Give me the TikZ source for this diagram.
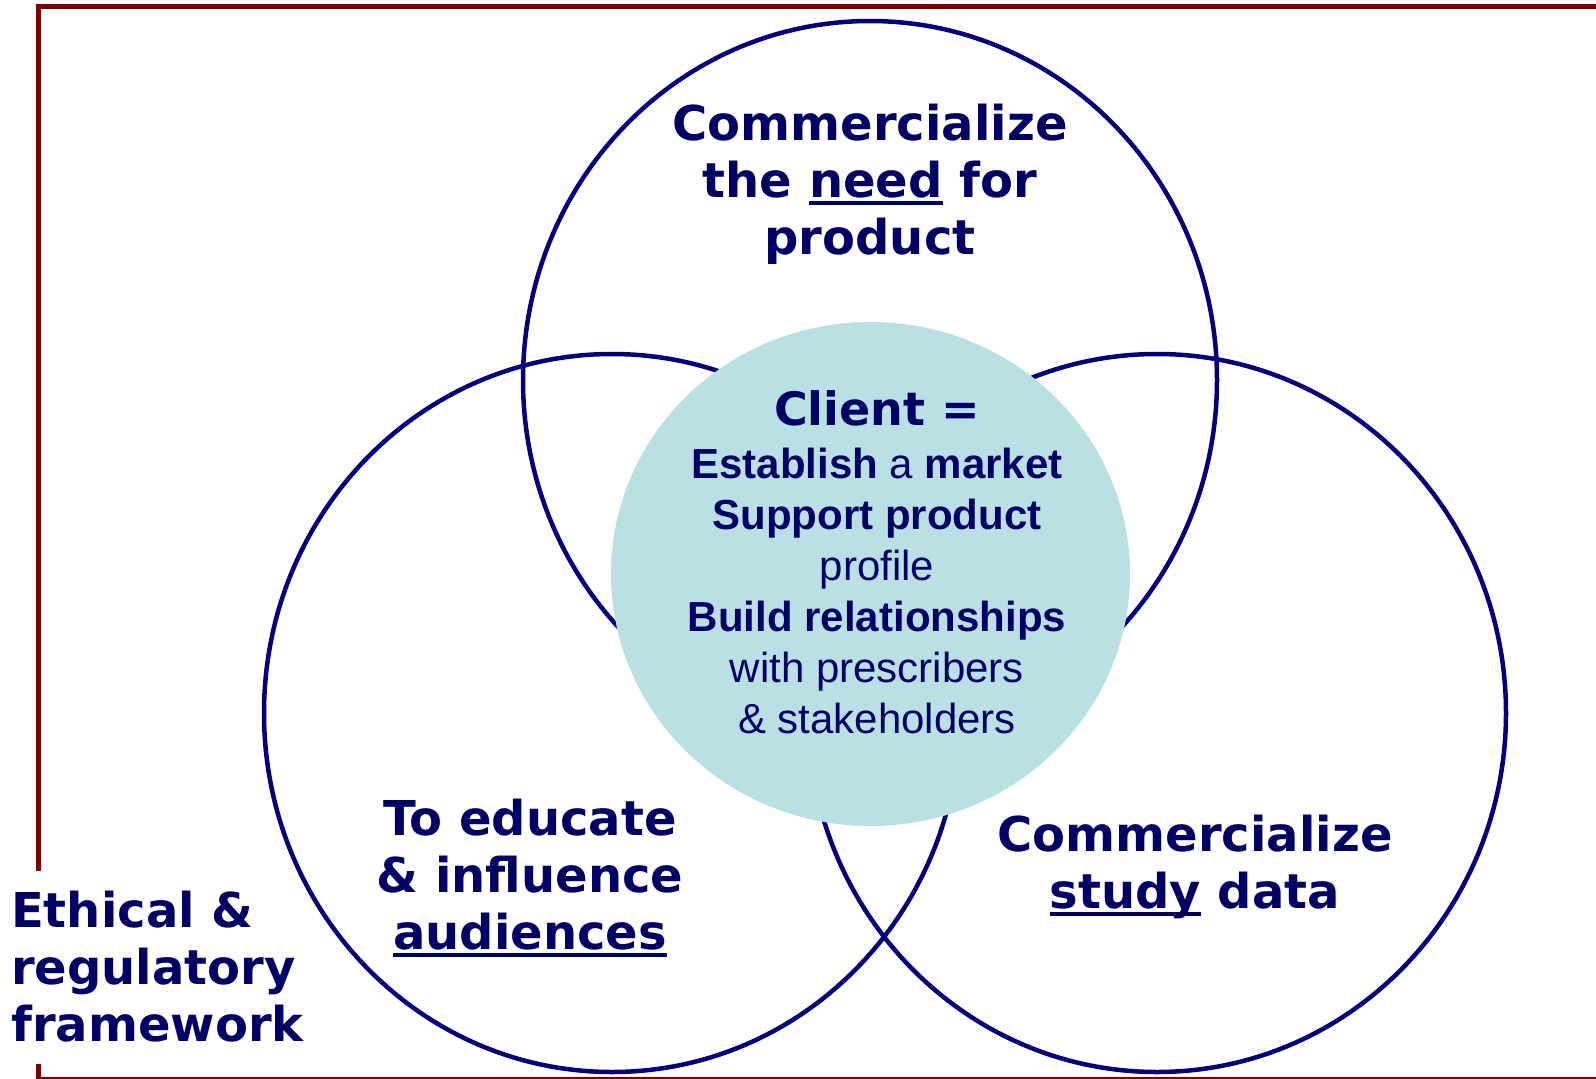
\documentclass[tikz,border=0pt]{standalone}
\usepackage{fontspec}
\setmainfont{Liberation Sans}
\newfontfamily\verafont{DejaVu Sans}
\definecolor{ringblue}{HTML}{000080}
\definecolor{textnavy}{HTML}{000066}
\definecolor{framered}{HTML}{800000}
\definecolor{clientfill}{HTML}{B9E0E3}
\newcommand\undr[1]{\setbox0\hbox{#1}\rlap{\rule[-7pt]{\wd0}{3.5pt}}\box0\relax}
\begin{document}
\begin{tikzpicture}[x=1pt, y=-1pt,
    ring/.style={draw=ringblue, line width=4.5pt},
    bigtext/.style={text=textnavy, inner sep=0pt, align=center,
      font=\verafont\bfseries\fontsize{48}{57}\selectfont},
    smalltext/.style={text=textnavy, inner sep=0pt, align=center,
      font=\fontsize{42}{51}\selectfont}]
  \useasboundingbox (0,0) rectangle (1596,1079);

  \draw[framered, line width=5pt] (38.5,871) -- (38.5,6.5) -- (1600,6.5);
  \draw[framered, line width=5pt] (38.5,1064) -- (38.5,1079) -- (1600,1079);

  \draw[ring] (870,380) ellipse [x radius=347pt, y radius=359pt];
  \draw[ring] (612,713) ellipse [x radius=348pt, y radius=359pt];
  \draw[ring] (1157,713) ellipse [x radius=349pt, y radius=359pt];
  \fill[clientfill] (870.5,574) ellipse [x radius=259.5pt, y radius=252pt];

  \node[bigtext, anchor=north] (need) at (870,104)
    {Commercialize\\the \undr{need} for\\product};
  \node[bigtext, anchor=north] (educate) at (530,799)
    {To educate\\\& influence\\\undr{audiences}};
  \node[bigtext, anchor=north] (study) at (1195,815)
    {Commercialize\\\undr{study} data};
  \node[bigtext, anchor=north west, align=left] (ethics) at (11,891)
    {Ethical \&\\regulatory\\framework};
  \node[smalltext, anchor=north] (client) at (877,390)
    {{\verafont\bfseries\fontsize{46}{53}\selectfont Client =}\\[2pt]
     \textbf{Establish} a \textbf{market}\\\textbf{Support product}\\profile\\
     \textbf{Build relationships}\\with prescribers\\\& stakeholders};
\end{tikzpicture}
\end{document}
